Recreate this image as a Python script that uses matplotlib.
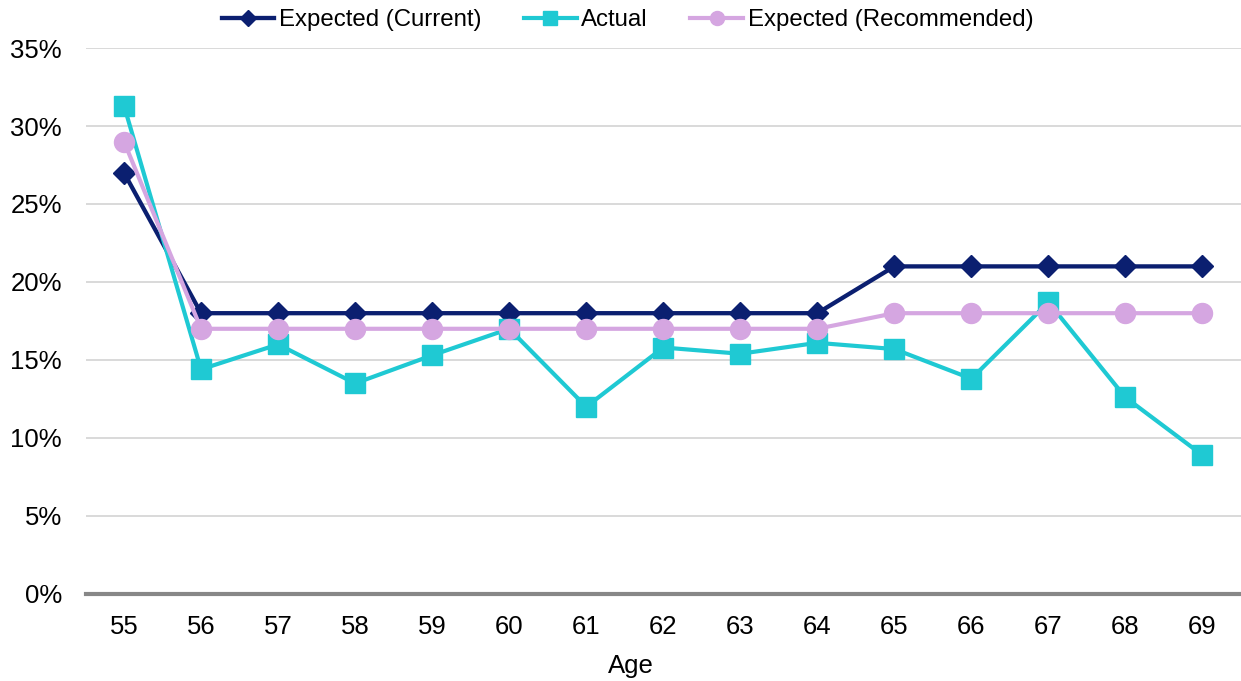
import matplotlib
matplotlib.use('Agg')
import matplotlib.pyplot as plt
from matplotlib.ticker import FuncFormatter

plt.rcParams['font.family'] = ['Liberation Sans', 'DejaVu Sans']

# ages on the x axis and rates in percent
ages = [55, 56, 57, 58, 59, 60, 61, 62, 63, 64, 65, 66, 67, 68, 69]
expected_current = [27, 18, 18, 18, 18, 18, 18, 18, 18, 18, 21, 21, 21, 21, 21]
actual = [31.3, 14.4, 16.0, 13.5, 15.3, 17.0, 12.0, 15.8, 15.4, 16.1, 15.7, 13.8, 18.7, 12.6, 8.9]
expected_recommended = [29, 17, 17, 17, 17, 17, 17, 17, 17, 17, 18, 18, 18, 18, 18]

navy = '#0b1f70'
teal = '#1fc9d3'
pink = '#d5a6e1'
fs = 18.5

fig = plt.figure(figsize=(12.41, 6.81), dpi=100)
ax = fig.add_axes([0.0689, 0.1278, 0.9311, 0.8017])

x = range(len(ages))
ax.plot(x, expected_current, color=navy, lw=3.1, marker='D', ms=11.5,
        label='Expected (Current)', zorder=3)
ax.plot(x, actual, color=teal, lw=3.0, marker='s', ms=14.2,
        label='Actual', zorder=4)
ax.plot(x, expected_recommended, color=pink, lw=3.0, marker='o', ms=14.4,
        label='Expected (Recommended)', zorder=5)

ax.set_xlim(-0.5, len(ages) - 0.5)
ax.set_ylim(0, 35)
ax.set_yticks(range(0, 36, 5))
ax.yaxis.set_major_formatter(FuncFormatter(lambda v, p: '%d%%' % v))
ax.set_xticks(list(x))
ax.set_xticklabels([str(a) for a in ages])
ax.tick_params(axis='both', length=0, labelsize=fs, colors='black')
ax.tick_params(axis='y', pad=17)
ax.tick_params(axis='x', pad=15)
ax.set_xlabel('Age', fontsize=fs)
ax.xaxis.set_label_coords(0.472, -0.11)

ax.grid(axis='y', color='#d0d0d0', lw=1.1)
ax.set_axisbelow(True)
for s in ['top', 'right', 'left']:
    ax.spines[s].set_visible(False)
ax.spines['bottom'].set_color('#878787')
ax.spines['bottom'].set_linewidth(3)
ax.spines['bottom'].set_zorder(6)

fig.legend(loc='center', bbox_to_anchor=(0.5056, 0.9706), ncol=3, frameon=False,
           fontsize=17.3, handlelength=2.2, handletextpad=0.2, columnspacing=1.75,
           markerscale=0.7)

fig.savefig('out.png', dpi=100)
